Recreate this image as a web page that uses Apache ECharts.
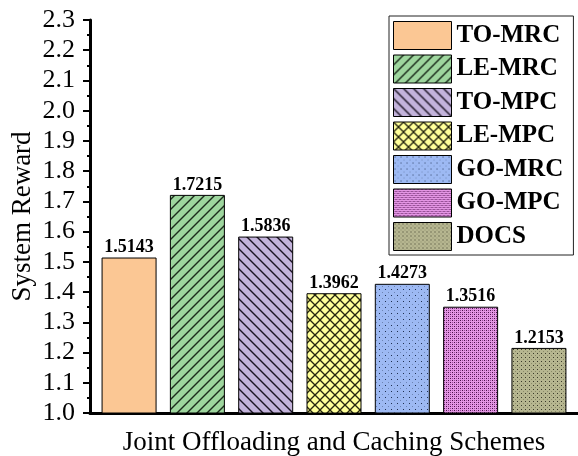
<!DOCTYPE html>
<html><head><meta charset="utf-8">
<script src="https://cdn.jsdelivr.net/npm/echarts@6/dist/echarts.min.js"></script>
<style>html,body{margin:0;padding:0;background:#fff}#c{width:578px;height:456px}</style>
</head><body><div id="c"></div>
<script>
const schemes = ['TO-MRC', 'LE-MRC', 'TO-MPC', 'LE-MPC', 'GO-MRC', 'GO-MPC', 'DOCS'];
const rewards = [1.5143, 1.7215, 1.5836, 1.3962, 1.4273, 1.3516, 1.2153];
const yMin = 1.0, yMax = 2.3, yStep = 0.1;
const xTitle = 'Joint Offloading and Caching Schemes';
const yTitle = 'System Reward';

function tile(size, draw) {
  const c = document.createElement('canvas');
  c.width = size; c.height = size;
  const g = c.getContext('2d');
  draw(g, size);
  return { image: c, repeat: 'repeat' };
}
function lines(base, ink, dir, size) {
  return tile(size, (g, s) => {
    g.fillStyle = base; g.fillRect(0, 0, s, s);
    g.strokeStyle = ink; g.lineWidth = 1.4;
    const segs = dir > 0 ? [[0, s, s, 0], [-s, s, s, -s], [0, 2 * s, 2 * s, 0]]
                         : [[0, 0, s, s], [-s, 0, s, 2 * s], [0, -s, 2 * s, s]];
    segs.forEach(p => { g.beginPath(); g.moveTo(p[0], p[1]); g.lineTo(p[2], p[3]); g.stroke(); });
  });
}
function cross(base, ink, size) {
  return tile(size, (g, s) => {
    g.fillStyle = base; g.fillRect(0, 0, s, s);
    g.strokeStyle = ink; g.lineWidth = 1.3;
    [[0, s, s, 0], [-s, s, s, -s], [0, 2 * s, 2 * s, 0], [0, 0, s, s], [-s, 0, s, 2 * s], [0, -s, 2 * s, s]]
      .forEach(p => { g.beginPath(); g.moveTo(p[0], p[1]); g.lineTo(p[2], p[3]); g.stroke(); });
  });
}
function dots(base, ink, size, pts, ink2, pts2) {
  return tile(size, (g, s) => {
    g.fillStyle = base; g.fillRect(0, 0, s, s);
    g.fillStyle = ink; pts.forEach(p => g.fillRect(p[0], p[1], 1, 1));
    if (ink2) { g.fillStyle = ink2; pts2.forEach(p => g.fillRect(p[0], p[1], 1, 1)); }
  });
}
const fills = [
  '#FBC794',
  lines('#9ED69E', '#1c2c1c', 1, 10),
  lines('#C3B3DB', '#1c1424', -1, 10),
  cross('#FFFF9A', '#262610', 10),
  dots('#9DB9F3', '#203050', 6, [[1, 1]], '#6d85b5', [[4, 4]]),
  dots('#E497E4', '#4a104a', 4, [[0, 0], [2, 2]], '#9a4a9a', [[2, 0], [0, 2]]),
  dots('#B6B690', '#3a3a2a', 4, [[1, 1]], '#8a8a68', [[3, 3]])
];

const serif = 'Liberation Serif, Times New Roman, serif';
const series = schemes.map((name, i) => ({
  name: name,
  type: 'bar',
  xAxisIndex: 0,
  barWidth: 55,
  barGap: '24.2%',
  data: [rewards[i]],
  itemStyle: { color: fills[i], borderColor: '#000', borderWidth: 1 },
  label: {
    show: true, position: 'top', distance: 1,
    formatter: p => p.value.toFixed(4),
    fontFamily: serif, fontWeight: 'bold', fontSize: 18, color: '#000'
  }
}));

const chart = echarts.init(document.getElementById('c'), null, { renderer: 'canvas' });
chart.setOption({
  animation: false,
  backgroundColor: '#fff',
  grid: { left: 90, right: 0, top: 20, bottom: 43, containLabel: false, outerBoundsMode: 'none' },
  legend: {
    orient: 'vertical', left: 389, top: 16,
    padding: [5, 10, 4, 4],
    itemWidth: 58, itemHeight: 28, itemGap: 4.5,
    icon: 'rect',
    borderColor: '#222', borderWidth: 1,
    itemStyle: { borderColor: '#000', borderWidth: 1 },
    textStyle: { fontFamily: serif, fontWeight: 'bold', fontSize: 25, color: '#000' },
    data: schemes
  },
  xAxis: [{
    type: 'category', data: [''],
    name: xTitle, nameLocation: 'middle', nameGap: 16, nameMoveOverlap: false,
    nameTextStyle: { fontFamily: serif, fontSize: 27, color: '#000' },
    axisLine: { lineStyle: { color: '#000', width: 3 } },
    axisTick: { alignWithLabel: true, length: 6, lineStyle: { color: '#000', width: 2 } },
    axisLabel: { show: false }
  }, {
    type: 'category', data: [''], position: 'bottom',
    axisLine: { show: false },
    axisTick: { length: 6, lineStyle: { color: '#000', width: 2 } },
    axisLabel: { show: false }
  }],
  yAxis: {
    type: 'value', min: yMin, max: yMax, interval: yStep,
    name: yTitle, nameLocation: 'middle', nameGap: 54, nameMoveOverlap: false,
    nameTextStyle: { fontFamily: serif, fontSize: 27, color: '#000' },
    axisLine: { show: true, lineStyle: { color: '#000', width: 3 } },
    axisTick: { show: true, length: 7, lineStyle: { color: '#000', width: 2 } },
    minorTick: { show: true, splitNumber: 2, length: 3, lineStyle: { color: '#000', width: 2 } },
    splitLine: { show: false },
    axisLabel: { margin: 15, fontFamily: serif, fontSize: 26, color: '#000', formatter: v => v.toFixed(1) }
  },
  series: series
});
</script></body></html>
